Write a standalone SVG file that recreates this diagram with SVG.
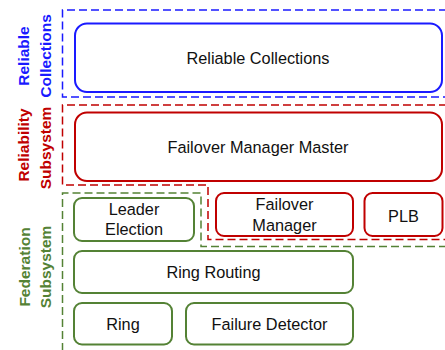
<svg xmlns="http://www.w3.org/2000/svg" width="445" height="350" viewBox="0 0 445 350">
<style>
.frame{fill:none;stroke-width:1.5;stroke-dasharray:8 4}
.box{fill:#fff;stroke-width:2}
.b{stroke:#1a1aff}.r{stroke:#c00000}.g{stroke:#548235}
.t{font-family:"Liberation Sans",Arial,sans-serif;font-size:16.3px;fill:#111;text-anchor:middle}
.lab{font-family:"Liberation Sans",Arial,sans-serif;font-size:15.5px;font-weight:bold;text-anchor:middle}
</style>
<rect width="445" height="350" fill="#fff"/>
<g id="frames">
<path class="frame b" d="M447,10 H62.5 V97 H447"/>
<path class="frame r" d="M447,105 H62.5 V185 H208 V239.5 H447"/>
<path class="frame g" d="M447,246.5 H201 V193 H62.5 V352"/>
</g>
<g id="labels">
<g id="label-reliable-collections" fill="#1a1aff">
<text class="lab" transform="translate(28.5,56) rotate(-90)">Reliable</text>
<text class="lab" transform="translate(51,56) rotate(-90)">Collections</text>
</g>
<g id="label-reliability-subsystem" fill="#c00000">
<text class="lab" transform="translate(28.5,145) rotate(-90)">Reliability</text>
<text class="lab" transform="translate(51,148) rotate(-90)">Subsystem</text>
</g>
<g id="label-federation-subsystem" fill="#548235">
<text class="lab" transform="translate(29.5,267) rotate(-90)">Federation</text>
<text class="lab" transform="translate(51,267) rotate(-90)">Subsystem</text>
</g>
</g>
<g id="reliable-collections">
<rect class="box b" x="75" y="23.5" width="367" height="68.5" rx="12"/>
<text class="t" x="258" y="63.5">Reliable Collections</text>
</g>
<g id="failover-manager-master">
<rect class="box r" x="75" y="112.5" width="367" height="68.5" rx="12"/>
<text class="t" x="258" y="152.5">Failover Manager Master</text>
</g>
<g id="leader-election">
<rect class="box g" x="74" y="198" width="120" height="43" rx="8"/>
<text class="t" x="134" y="214.5">Leader</text>
<text class="t" x="134" y="235">Election</text>
</g>
<g id="failover-manager">
<rect class="box r" x="216" y="193" width="137" height="43" rx="8"/>
<text class="t" x="284.5" y="210">Failover</text>
<text class="t" x="284.5" y="230.5">Manager</text>
</g>
<g id="plb">
<rect class="box r" x="364.5" y="193" width="78" height="43" rx="8"/>
<text class="t" x="403.5" y="221.5">PLB</text>
</g>
<g id="ring-routing">
<rect class="box g" x="74" y="251" width="279" height="42" rx="8"/>
<text class="t" x="213.5" y="277.5">Ring Routing</text>
</g>
<g id="ring">
<rect class="box g" x="74" y="303" width="98" height="41.5" rx="8"/>
<text class="t" x="123" y="329.5">Ring</text>
</g>
<g id="failure-detector">
<rect class="box g" x="186" y="303" width="167" height="41.5" rx="8"/>
<text class="t" x="269.5" y="329.5">Failure Detector</text>
</g>
<g id="connectors"/>
</svg>
